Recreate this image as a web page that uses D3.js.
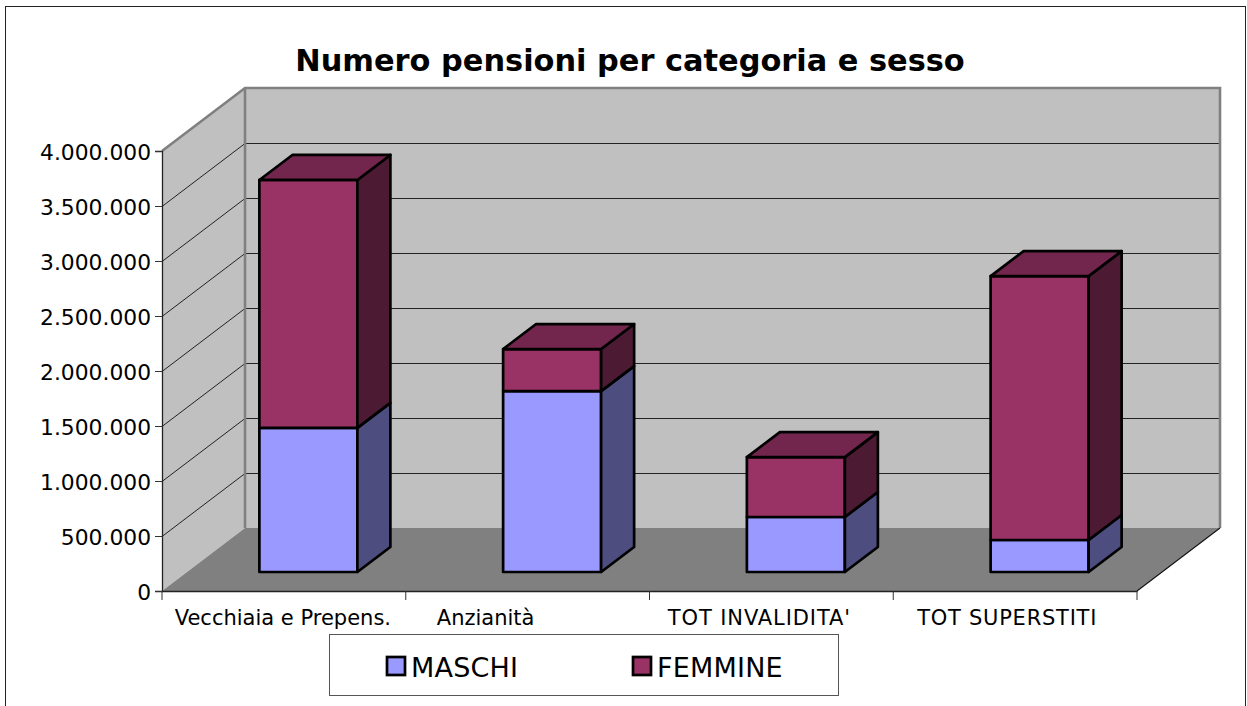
<!DOCTYPE html>
<html><head><meta charset="utf-8">
<script src="https://cdn.jsdelivr.net/npm/d3@7"></script>
<style>html,body{margin:0;background:#fff}svg{display:block}text{font-family:"DejaVu Sans",Verdana,sans-serif;fill:#000}</style>
</head><body><svg id="c" width="1247" height="706"></svg>
<script>
const chartTitle = "Numero pensioni per categoria e sesso";
const categories = ["Vecchiaia e Prepens.", "Anzianità", "TOT INVALIDITA'", "TOT SUPERSTITI"];
const seriesNames = ["MASCHI", "FEMMINE"];
const maschi = [1310000, 1645000, 500000, 291000];
const femmine = [2254000, 382000, 545000, 2399000];
const yTicks = [0, 500000, 1000000, 1500000, 2000000, 2500000, 3000000, 3500000, 4000000];
const frontColors = ["#9999FF", "#993366"];
const sideColors = ["#4D4D80", "#4D1A33"];
const topColors = ["#73734D", "#73264D"];
const labelShift = [-1, -42, -12, -8];
const labelSpacing = [0, 0, 0.9, 0.75];

const W = {x0:162, x1:1137, y0:591, y1:151, dx:83, dy:-63, barDx:25, barDy:-19, barW:98, sideDx:33, sideDy:-25};
const svg = d3.select("#c");
const y = d3.scaleLinear().domain([0,4000000]).range([W.y0,W.y1]);
const x = d3.scaleBand().domain(categories).range([W.x0,W.x1]);
const loc = d3.formatLocale({decimal:",",thousands:".",grouping:[3],currency:["",""]});
const fmt = loc.format(",d");
const poly = pts => pts.map(p=>p.join(",")).join(" ");

svg.append("rect").attr("x",5.5).attr("y",6.5).attr("width",1240).attr("height",720).attr("fill","#fff").attr("stroke","#222").attr("stroke-width",1);
svg.append("text").attr("x",630).attr("y",70.5).attr("text-anchor","middle").attr("font-size",30.4).attr("font-weight","bold").text(chartTitle);

// walls and floor
svg.append("polygon").attr("points",poly([[W.x0,W.y0],[W.x0+W.dx,W.y0+W.dy],[W.x0+W.dx,W.y1+W.dy],[W.x0,W.y1]])).attr("fill","#C0C0C0");
svg.append("rect").attr("x",W.x0+W.dx).attr("y",W.y1+W.dy).attr("width",W.x1-W.x0).attr("height",W.y0-W.y1).attr("fill","#C0C0C0");
svg.append("polygon").attr("points",poly([[W.x0,W.y0],[W.x1,W.y0],[W.x1+W.dx,W.y0+W.dy],[W.x0+W.dx,W.y0+W.dy]])).attr("fill","#808080");

// gridlines
yTicks.filter(t=>t>0&&t<4000000).forEach(t=>{
  const a = y(t)+0.5, b = a+W.dy;
  svg.append("polyline").attr("points",poly([[W.x0,a],[W.x0+W.dx,b],[W.x1+W.dx,b]]))
    .attr("fill","none").attr("stroke","#222").attr("stroke-width",1);
});
// wall borders
svg.append("polyline").attr("points",poly([[W.x0,W.y1],[W.x0+W.dx,W.y1+W.dy],[W.x1+W.dx,W.y1+W.dy],[W.x1+W.dx,W.y0+W.dy]]))
  .attr("fill","none").attr("stroke","#808080").attr("stroke-width",2.6);
svg.append("line").attr("x1",W.x0+W.dx).attr("x2",W.x0+W.dx).attr("y1",W.y1+W.dy).attr("y2",W.y0+W.dy).attr("stroke","#808080").attr("stroke-width",2.6);
svg.append("line").attr("x1",W.x1).attr("x2",W.x1+W.dx).attr("y1",W.y0).attr("y2",W.y0+W.dy).attr("stroke","#111").attr("stroke-width",1.1);

// bars
const applyS = s=>s.attr("stroke","#000").attr("stroke-width",2.7).attr("stroke-linejoin","round");
categories.forEach((c,i)=>{
  const left = x(c)+W.barDx+(x.bandwidth()-W.barW)/2-0.5, right = left+W.barW;
  let base = 0;
  [maschi[i],femmine[i]].forEach((v,s)=>{
    const top = base+v;
    const yb = y(base)+W.barDy, yt = y(top)+W.barDy;
    applyS(svg.append("rect").attr("x",left).attr("y",yt).attr("width",W.barW).attr("height",yb-yt).attr("fill",frontColors[s]));
    applyS(svg.append("polygon").attr("points",poly([[right,yb],[right+W.sideDx,yb+W.sideDy],[right+W.sideDx,yt+W.sideDy],[right,yt]])).attr("fill",sideColors[s]));
    if(s===1) applyS(svg.append("polygon").attr("points",poly([[left,yt],[left+W.sideDx,yt+W.sideDy],[right+W.sideDx,yt+W.sideDy],[right,yt]])).attr("fill",topColors[s]));
    base = top;
  });
});

// axes
const gy = svg.append("g").attr("transform",`translate(${W.x0},0)`)
  .call(d3.axisLeft(y).tickValues(yTicks).tickFormat(fmt).tickSize(7).tickPadding(4));
gy.selectAll("text").attr("font-size",21.8).attr("fill","#000").attr("y",1.5);
const gx = svg.append("g").attr("transform",`translate(0,${W.y0})`)
  .call(d3.axisBottom(x).tickValues([]).tickSizeOuter(0));
x.domain().forEach(c=>{
  gx.append("line").attr("x1",x(c)+x.bandwidth()).attr("x2",x(c)+x.bandwidth()).attr("y1",0).attr("y2",9).attr("stroke","#333");
});
gx.append("line").attr("x1",W.x0).attr("x2",W.x0).attr("y1",0).attr("y2",9).attr("stroke","#333");
svg.selectAll(".domain").attr("stroke","#222").attr("stroke-width",1.3);
gy.selectAll("line").attr("stroke","#333");
categories.forEach((c,i)=>{
  svg.append("text").attr("x",x(c)+x.bandwidth()/2+labelShift[i]).attr("y",625).attr("text-anchor","middle").attr("font-size",21).attr("letter-spacing",labelSpacing[i]).text(c);
});

// legend
svg.append("rect").attr("x",329.5).attr("y",634.5).attr("width",509).attr("height",61).attr("fill","#fff").attr("stroke","#555").attr("stroke-width",1);
const legendX = [387,633];
seriesNames.forEach((n,i)=>{
  svg.append("rect").attr("x",legendX[i]).attr("y",657).attr("width",18).attr("height",18).attr("fill",frontColors[i]).attr("stroke","#000").attr("stroke-width",2.7);
  svg.append("text").attr("x",legendX[i]+24).attr("y",677).attr("font-size",27).attr("letter-spacing",0.2).text(n);
});
</script></body></html>
